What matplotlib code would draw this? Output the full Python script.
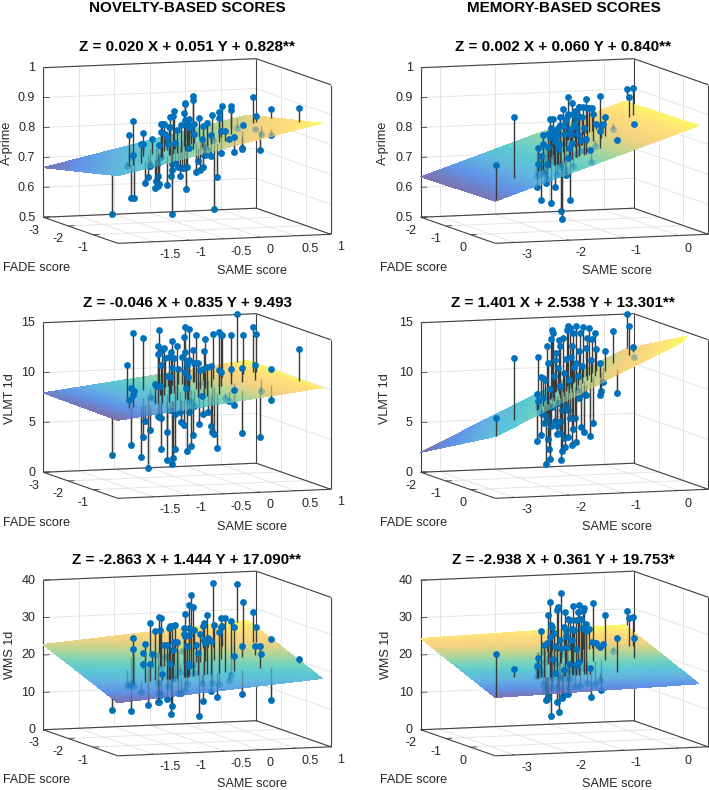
import numpy as np
import matplotlib
matplotlib.use("Agg")
import matplotlib.pyplot as plt
from matplotlib.colors import LinearSegmentedColormap, Normalize
from mpl_toolkits.mplot3d import proj3d
from mpl_toolkits.mplot3d.art3d import Line3DCollection

plt.rcParams["font.family"] = ["Liberation Sans", "DejaVu Sans"]

# novelty-based column: SAME score, FADE score, one outcome list per row
same_nov = [-1.99, -1.38, -1.56, -1.12, -1.54, -1.09, -1.51, -1.07, -1.40, -0.95, -1.15, -1.33, -1.09,
            -1.27, -0.84, -1.03, -1.19, -0.76, -0.95, -1.16, -0.73, -0.72, -1.14, -0.91, -1.11, -0.69, -0.90,
            -1.10, -0.86, -0.64, -1.03, -0.81, -0.59, -1.00, -0.78, -0.98, -0.54, -0.76, -0.96, -0.54, -0.72,
            -0.94, -0.50, -0.71, -0.89, -0.45, -0.64, -0.83, -0.40, -0.58, -0.36, -0.79, -0.36, -0.77, -0.55,
            -0.33, -0.75, -0.30, -0.54, -0.73, -0.50, -0.72, -0.29, -0.48, -0.24, -0.66, -0.44, -0.22, -0.41,
            -0.59, -0.15, -0.35, -0.54, -0.10, -0.31, -0.51, -0.08, -0.28, -0.47, -0.03, -0.20, -0.40, 0.02,
            -0.16, 0.04, -0.32, -0.08, 0.15, -0.29, -0.06, 0.17, -0.21, 0.08, 0.30, -0.15, 0.13, -0.08, 0.73,
            0.03, 0.46, 0.24, 0.61, 0.64, 0.42, 0.29, 0.51, 0.44, 0.86, 0.83]
fade_nov = [-0.26, -1.4, -0.8, -2, -0.8, -2, -0.8, -2, -0.8, -2, -1.4, -0.8, -1.4,
            -0.8, -2, -1.4, -0.8, -2, -1.4, -0.8, -2, -2, -0.8, -1.4, -0.8, -2, -1.4,
            -0.8, -1.4, -2, -0.8, -1.4, -2, -0.8, -1.4, -0.8, -2, -1.4, -0.8, -2, -1.4,
            -0.8, -2, -1.4, -0.8, -2, -1.4, -0.8, -2, -1.4, -2, -0.8, -2, -0.8, -1.4,
            -2, -0.8, -2, -1.4, -0.8, -1.4, -0.8, -2, -1.4, -2, -0.8, -1.4, -2, -1.4,
            -0.8, -2, -1.4, -0.8, -2, -1.4, -0.8, -2, -1.4, -0.8, -2, -1.4, -0.8, -2,
            -1.4, -2, -0.8, -1.4, -2, -0.8, -1.4, -2, -0.8, -1.4, -2, -0.8, -1.4, -0.8, -3,
            -0.8, -2, -1.4, -2, -2, -1.4, -0.8, -1.4, -0.8, -2, -0.8]
aprime_nov = [.589, .71, .834, .72, .622, .841, .766, .583, .802, .799, .783, .673, .672,
              .73, .689, .80, .652, .639, .717, .693, .622, .759, .668, .737, .868, .717, .82,
              .868, .848, .794, .663, .803, .761, .854, .837, .888, .672, .672, .563, .694, .89,
              .893, .694, .781, .843, .683, .67, .86, .679, .882, .896, .717, .89, .878, .627,
              .679, .861, .84, .766, .859, .832, .783, .821, .832, .918, .941, .843, .79, .682,
              .739, .843, .688, .811, .814, .699, .783, .718, .738, .863, .734, .732, .822, .851,
              .557, .768, .682, .858, .721, .899, .816, .88, .834, .899, .863, .807, .743, .812, .772,
              .773, .813, .754, .904, .84, .818, .767, .799, .814, .862, .901]
vlmt_nov = [4.07, 11.97, 9.07, 9.03, 4.47, 14.57, 9.47, 8.7, 3.3, 14.07, 4.7, 6.9, 1.5,
            5.9, 8.03, 8.53, 10.5, 9.17, 6.7, 14.3, 12.37, 14.77, 7.17, 9.7, 7.07, 2.83, 11.87,
            13.9, 13.53, 11.93, 2.9, 5.1, 10.1, 13.17, 10.63, 7.9, 13.6, 13.1, 2.4, 10.93, 12.43,
            3.07, 2.77, 6.87, 14.23, 10.77, 7.03, 6.57, 11.97, 14.57, 12.47, 6.27, 14.97, 11.6, 9.4,
            2.47, 12.27, 14.7, 12.07, 11.1, 12.23, 7.6, 7.47, 3.57, 12.63, 5.27, 7.57, 11.3, 14.73,
            12.5, 5.13, 11.17, 9.17, 10.63, 6.73, 13.67, 9.23, 14.23, 12.03, 6.37, 11.5, 6.1, 4.3,
            4.67, 14.13, 3.87, 14.9, 14.0, 11.63, 10.9, 14.0, 8.83, 14.57, 10.5, 8.47, 7.47, 9.57, 15.0,
            5.2, 13.9, 11.13, 14.63, 13.9, 11.43, 4.77, 8.8, 8.47, 10.33, 13.43]
wms_nov = [11.6, 15.2, 16.4, 14.0, 9.8, 26.2, 26.2, 13.2, 14.8, 22.0, 20.5, 27.4, 9.7,
           22.0, 29.9, 23.3, 30.9, 21.2, 15.5, 14.2, 8.8, 31.5, 11.8, 29.5, 13.6, 18.1, 32.8,
           19.4, 25.5, 20.8, 26.9, 11.0, 12.8, 31.6, 30.4, 22.0, 7.5, 7.0, 32.0, 14.8, 26.1,
           25.6, 29.2, 16.4, 27.6, 11.0, 18.0, 14.0, 22.2, 28.3, 32.0, 31.3, 11.7, 29.2, 20.3,
           13.3, 26.6, 28.2, 17.6, 21.7, 27.8, 21.2, 34.4, 38.5, 18.2, 36.8, 17.6, 27.7, 25.2,
           24.4, 4.6, 28.1, 16.5, 28.6, 10.0, 32.4, 24.9, 25.6, 34.6, 25.3, 12.7, 27.5, 13.3,
           30.2, 40.0, 12.4, 14.5, 30.6, 29.8, 29.6, 28.3, 33.6, 31.2, 15.2, 16.9, 29.6, 23.3, 36.9,
           13.1, 34.5, 24.3, 31.6, 27.8, 24.2, 25.7, 22.0, 11.1, 24.4, 21.7]

# memory-based column
same_mem = [-3.33, -2.59, -2.23, -1.94, -1.67, -2.20, -1.88, -2.15, -1.57, -2.11, -1.80, -2.06, -1.50,
            -2.03, -1.74, -1.46, -1.98, -1.70, -1.41, -1.96, -1.65, -1.90, -1.34, -1.59, -1.85, -1.29,
            -1.55, -1.80, -1.51, -1.23, -1.76, -1.48, -1.19, -1.71, -1.41, -1.13, -1.11, -1.10, -1.62,
            -1.08, -1.59, -1.31, -1.02, -1.56, -1.26, -0.97, -1.51, -1.20, -1.46, -0.90, -0.88, -1.14,
            -0.83, -1.37, -1.08, -0.77, -1.33, -1.03, -0.73, -1.25, -1.24, -0.67, -0.93, -0.88, -0.60,
            -0.53, -1.06, -0.77, -0.46, -0.71, -0.29, -0.76, 0.43, 0.0, 0.09, -0.17,
            -1.87, -1.53, -2.02, -1.71, -1.40, -1.91, -1.32, -1.83, -1.52, -1.22, -1.73, -1.42,
            -1.12, -1.63, -1.33, -0.99, -1.50, -1.13, -1.65, -2.10, -1.68, -1.26, -1.65, -0.93]
fade_mem = [0.97, 0.1, 0.2, -0.4, -1, 0.2, -0.4, 0.2, -1, 0.2, -0.4, 0.2, -1,
            0.2, -0.4, -1, 0.2, -0.4, -1, 0.2, -0.4, 0.2, -1, -0.4, 0.2, -1,
            -0.4, 0.2, -0.4, -1, 0.2, -0.4, -1, 0.2, -0.4, -1, -1, -1, 0.2,
            -1, 0.2, -0.4, -1, 0.2, -0.4, -1, 0.2, -0.4, 0.2, -1, -1, -0.4,
            -1, 0.2, -0.4, -1, 0.2, -0.4, -1, 0.2, 0.2, -1, -0.4, -0.4, -1,
            -1, 0.2, -0.4, -1, -0.4, -1, 0.2, -2, -1, -1, -0.4,
            -0.4, -1, 0.2, -0.4, -1, 0.2, -1, 0.2, -0.4, -1, 0.2, -0.4,
            -1, 0.2, -0.4, -1, 0.2, -0.4, -1, 0.2, -0.4, -1, 0.2, -1]
aprime_mem = [.762, .889, .694, .767, .618, .733, .593, .761, .761, .83, .686, .667, .644,
              .733, .813, .694, .883, .833, .797, .602, .861, .803, .613, .678, .826, .813,
              .778, .859, .711, .533, .546, .894, .819, .709, .674, .847, .856, .913, .844,
              .57, .797, .914, .856, .722, .887, .722, .85, .87, .917, .878, .731, .787,
              .878, .848, .753, .903, .809, .893, .873, .772, .731, .873, .873, .766, .82,
              .914, .834, .831, .82, .862, .80, .803, .90, .906, .933, .833,
              .702, .716, .789, .802, .724, .842, .78, .781, .867, .758, .831, .856,
              .758, .783, .809, .822, .883, .864, .672, .70, .728, .68, .75, .789]
vlmt_mem = [8.03, 13.08, 9.53, 12.67, 3.63, 8.77, 10.57, 5.37, 9.9, 9.03, 6.73, 2.43, 5.67,
            14.27, 4.33, 2.73, 2.93, 14.4, 14.67, 6.2, 14.93, 6.7, 11.67, 5.6, 5.37, 10.83,
            14.27, 14.2, 6.1, 1.57, 3.7, 14.43, 3.83, 4.03, 7.67, 14.67, 15.0, 6.6, 6.93,
            14.77, 14.17, 3.7, 14.27, 5.83, 6.37, 15.0, 4.5, 10.53, 8.93, 12.43, 14.27, 5.37,
            14.83, 9.27, 4.87, 12.7, 9.2, 14.3, 14.7, 5.03, 12.7, 13.6, 5.73, 14.8, 12.6,
            7.93, 12.37, 8.97, 9.27, 12.97, 14.37, 9.27, 15.0, 14.77, 12.6, 12.17,
            7.0, 9.73, 12.6, 9.33, 8.0, 11.2, 12.33, 8.53, 9.6, 6.67, 11.53, 12.27,
            9.0, 10.77, 12.53, 10.93, 12.43, 11.53, 7.07, 6.6, 7.6, 4.33, 5.1, 8.6]
wms_mem = [27.1, 20.66, 21.4, 18.9, 15.6, 23.7, 17.7, 30.8, 22.0, 16.5, 13.4, 12.2, 24.3,
           12.4, 33.4, 20.5, 38.5, 6.5, 28.5, 32.2, 21.7, 19.3, 23.6, 10.1, 36.2, 34.0,
           7.3, 18.4, 24.4, 37.6, 12.6, 11.5, 28.5, 35.5, 27.5, 14.6, 10.4, 30.6, 17.7,
           30.3, 27.9, 29.5, 16.8, 37.2, 14.1, 30.3, 21.2, 34.0, 22.1, 34.1, 12.5, 31.9,
           32.4, 36.4, 18.8, 29.1, 30.4, 14.7, 27.7, 20.2, 12.6, 24.2, 36.2, 14.5, 23.7,
           22.8, 17.1, 12.7, 23.6, 32.7, 21.5, 28.1, 29.5, 30.1, 30.3, 26.3,
           18.8, 19.4, 13.2, 27.6, 12.5, 30.0, 18.8, 15.7, 26.6, 21.4, 20.2, 29.2,
           23.2, 21.7, 26.4, 27.5, 25.7, 29.5, 18.9, 27.0, 16.4, 14.8, 15.5, 16.8]

# fit coefficients: Z = a * FADE + b * SAME + c
coef_nov = [(0.020, 0.051, 0.828), (-0.046, 0.835, 9.493), (-2.863, 1.444, 17.090)]
coef_mem = [(0.002, 0.060, 0.840), (1.401, 2.538, 13.301), (-2.938, 0.361, 19.753)]
titles_nov = ["Z = 0.020 X + 0.051 Y + 0.828**", "Z = -0.046 X + 0.835 Y + 9.493", "Z = -2.863 X + 1.444 Y + 17.090**"]
titles_mem = ["Z = 0.002 X + 0.060 Y + 0.840**", "Z = 1.401 X + 2.538 Y + 13.301**", "Z = -2.938 X + 0.361 Y + 19.753*"]

row_names = ["A-prime", "VLMT 1d", "WMS 1d"]
row_zlims = [(0.5, 1), (0, 15), (0, 40)]
row_zticks = [[0.5, 0.6, 0.7, 0.8, 0.9, 1], [0, 5, 10, 15], [0, 10, 20, 30, 40]]
row_zlabels = [["0.5", "0.6", "0.7", "0.8", "0.9", "1"], ["0", "5", "10", "15"], ["0", "10", "20", "30", "40"]]

same_ticks_nov = [-1.5, -1, -0.5, 0, 0.5, 1]
same_labels_nov = ["-1.5", "-1", "-0.5", "0", "0.5", "1"]
fade_ticks_nov = [-3, -2, -1]
same_ticks_mem = [-3, -2, -1, 0]
same_labels_mem = ["-3", "-2", "-1", "0"]
fade_ticks_mem = [-2, -1, 0]

parula = LinearSegmentedColormap.from_list("parula_like", [
    (0.208, 0.166, 0.529), (0.05, 0.36, 0.86), (0.07, 0.55, 0.82), (0.02, 0.68, 0.74),
    (0.22, 0.74, 0.58), (0.60, 0.75, 0.35), (0.93, 0.73, 0.25), (1.0, 0.80, 0.22), (0.98, 0.96, 0.08)])

TEXT = "#262626"
GRAY = "#404040"
GRID = "#e4e4e4"
BLUE = "#0072BD"
STEM = "#3a3a3a"
PLANE_ALPHA = 0.66
FW, FH = 709, 790
AX_PX = 343


def panel(cx, cy, same, fade, zvals, coef, zlim, zticks, zlabels, xlim, ylim, plane_x, xticks, xlabels, yticks):
    left = (cx - 0.5135 * AX_PX) / FW
    bottom = (FH - cy - 0.5135 * AX_PX) / FH
    ax = plt.gcf().add_axes([left, bottom, AX_PX / FW, AX_PX / FH], projection="3d",
                            proj_type="ortho", computed_zorder=False)
    ax.patch.set_alpha(0)
    ax.set_box_aspect((226, 227, 151))
    ax.view_init(elev=7, azim=-109.2)
    ax.set_xlim(*xlim, view_margin=0)
    ax.set_ylim(ylim[1], ylim[0], view_margin=0)
    ax.set_zlim(*zlim, view_margin=0)
    ax.set_xticks([])
    ax.set_yticks([])
    ax.set_zticks([])
    for axis in (ax.xaxis, ax.yaxis, ax.zaxis):
        axis.line.set_color("none")
        axis.pane.set_facecolor("white")
        axis.pane.set_edgecolor("none")

    x0, x1 = xlim
    y0, y1 = ylim
    z0, z1 = zlim
    xr, zr = x1 - x0, z1 - z0

    # grid on the floor and the two back walls
    grid = []
    for t in xticks:
        grid += [((t, y0, z0), (t, y1, z0)), ((t, y0, z0), (t, y0, z1))]
    for t in yticks:
        grid += [((x0, t, z0), (x1, t, z0)), ((x1, t, z0), (x1, t, z1))]
    for t in zticks:
        grid += [((x0, y0, t), (x1, y0, t)), ((x1, y0, t), (x1, y1, t))]
    ax.add_collection3d(Line3DCollection(grid, colors=GRID, linewidths=0.7, zorder=0), autolim=False)

    # box edges
    edges = [((x0, y0, z0), (x0, y1, z0)), ((x0, y1, z0), (x1, y1, z0)), ((x1, y1, z0), (x1, y0, z0)),
             ((x1, y0, z0), (x0, y0, z0)), ((x0, y0, z0), (x0, y0, z1)), ((x1, y0, z0), (x1, y0, z1)),
             ((x1, y1, z0), (x1, y1, z1)), ((x0, y0, z1), (x1, y0, z1)), ((x1, y0, z1), (x1, y1, z1))]
    ax.add_collection3d(Line3DCollection(edges, colors=GRAY, linewidths=0.8, zorder=0.1), autolim=False)

    # short tick marks on the box
    marks = [((t, y1, z0), (t, y1 - 0.07, z0)) for t in xticks]
    marks += [((x0, t, z0), (x0 + 0.03 * xr, t, z0)) for t in yticks]
    marks += [((x0, y0, t), (x0 + 0.03 * xr, y0, t)) for t in zticks]
    ax.add_collection3d(Line3DCollection(marks, colors=GRAY, linewidths=0.6, zorder=0.1), autolim=False)

    # tick labels go through the projection by hand so they are plain 2d texts
    proj = ax.get_proj()

    def label(x, y, z, s, ha):
        px, py, _ = proj3d.proj_transform(x, y, z, proj)
        ax.text2D(px, py, s, transform=ax.transData, ha=ha, va="center", fontsize=9, color=TEXT)

    for t, lab in zip(xticks, xlabels):
        label(t, y1 + 0.27, z0 - 0.071 * zr, lab, "left")
    for t in yticks:
        label(x0 - 0.02 * xr, t, z0 - 0.089 * zr, str(t), "right")
    for t, lab in zip(zticks, zlabels):
        label(x0 - 0.0375 * xr, y0, t, lab, "right")

    same = np.array(same)
    fade = np.array(fade)
    zvals = np.array(zvals)
    a, b, c = coef
    fit = a * fade + b * same + c
    above = zvals >= fit

    # plane is drawn opaque with its colours already mixed with white, cut off at the top of the box
    sg, fg = np.meshgrid(np.linspace(plane_x[0], plane_x[1], 61), np.linspace(y0, y1, 61))
    zg = a * fg + b * sg + c
    norm = Normalize(zg.min(), min(zg.max(), z1))
    face = parula(norm(zg))
    face[..., :3] = PLANE_ALPHA * face[..., :3] + (1 - PLANE_ALPHA)
    ax.plot_surface(sg, fg, zg, facecolors=face, rstride=1, cstride=1, linewidth=0,
                    antialiased=False, shade=False, zorder=2, axlim_clip=True)

    def stems_and_dots(mask, order, alpha):
        segs = [((s, f, z), (s, f, p)) for s, f, z, p in zip(same[mask], fade[mask], zvals[mask], fit[mask])]
        ax.add_collection3d(Line3DCollection(segs, colors=STEM, linewidths=1.0, alpha=alpha, zorder=order),
                            autolim=False)
        ax.scatter(same[mask], fade[mask], zvals[mask], s=24, c=BLUE, alpha=alpha, depthshade=False,
                   linewidths=0, zorder=order + 0.5)

    # what lies under the plane shows through it: full colour below it, faint again on top
    stems_and_dots(~above, 1, 1)
    stems_and_dots(~above, 3, 1 - PLANE_ALPHA)
    stems_and_dots(above, 4, 1)
    return ax


fig = plt.figure(figsize=(FW / 100, FH / 100), dpi=100, facecolor="white")


def put(x, y, s, **kw):
    fig.text(x / FW, 1 - y / FH, s, color=kw.pop("color", TEXT), **kw)


row_cy = [151, 406, 663.5]
title_y = [47, 302.7, 560]
fade_y = [267.7, 523.3, 780]
same_y = [271, 527, 784]
ylab_x_nov = [7.3, 10, 10]
ylab_x_mem = [383, 385, 386]
ylab_y = [142.7, 399, 655]

nov_z = [aprime_nov, vlmt_nov, wms_nov]
mem_z = [aprime_mem, vlmt_mem, wms_mem]

for i in range(3):
    panel(187, row_cy[i], same_nov, fade_nov, nov_z[i], coef_nov[i], row_zlims[i], row_zticks[i], row_zlabels[i],
          (-2, 1), (-3, 0), (-2, 0.88), same_ticks_nov, same_labels_nov, fade_ticks_nov)
    panel(564.5, row_cy[i], same_mem, fade_mem, mem_z[i], coef_mem[i], row_zlims[i], row_zticks[i], row_zlabels[i],
          (-3.35, 0.55), (-2, 1), (-3.35, 0.38), same_ticks_mem, same_labels_mem, fade_ticks_mem)
    put(187, title_y[i], titles_nov[i], fontsize=10.9, fontweight="bold", color="black", ha="center", va="center")
    put(563, title_y[i], titles_mem[i], fontsize=10.9, fontweight="bold", color="black", ha="center", va="center")
    put(3.3, fade_y[i], "FADE score", fontsize=9.1, ha="left", va="center")
    put(380, fade_y[i], "FADE score", fontsize=9.1, ha="left", va="center")
    put(251.7, same_y[i], "SAME score", fontsize=9.1, ha="center", va="center")
    put(617, same_y[i], "SAME score", fontsize=9.1, ha="center", va="center")
    put(ylab_x_nov[i], ylab_y[i], row_names[i], fontsize=9.1, rotation=90, ha="center", va="center")
    put(ylab_x_mem[i], ylab_y[i], row_names[i], fontsize=9.1, rotation=90, ha="center", va="center")

put(187.5, 8, "NOVELTY-BASED SCORES", fontsize=11, fontweight="bold", color="black", ha="center", va="center")
put(564, 8, "MEMORY-BASED SCORES", fontsize=11, fontweight="bold", color="black", ha="center", va="center")

fig.savefig("out.png", dpi=100)
